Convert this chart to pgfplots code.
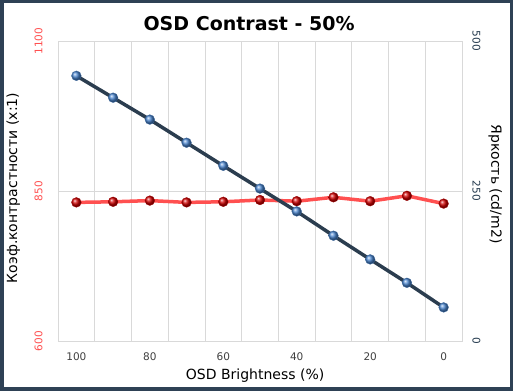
\documentclass[border=0pt]{standalone}
\usepackage{pgfplots}
\pgfplotsset{compat=1.18}
\usepackage{fontspec}
\setmainfont{DejaVu Sans}
\definecolor{frame}{HTML}{2E4155}
\definecolor{gridc}{HTML}{D9D9D9}
\definecolor{redline}{HTML}{FF5050}
\definecolor{redmark}{HTML}{D00000}
\definecolor{darkline}{HTML}{2B3D4F}
\definecolor{bluemark}{HTML}{4A86D0}
\definecolor{ticksred}{HTML}{FF5050}
\definecolor{ticksdark}{HTML}{243A4E}
\definecolor{xtickc}{HTML}{404040}
\begin{document}
\begin{tikzpicture}
\useasboundingbox (0,0) rectangle (513bp,391bp);
\fill[white] (0,0) rectangle (513bp,391bp);
\begin{axis}[
  scale only axis, width=404bp, height=300bp, at={(58bp,50bp)}, anchor=south west,
  xmin=-0.5, xmax=10.5, ymin=600, ymax=1100,
  xtick={0,2,4,6,8,10}, xticklabels={100,80,60,40,20,0},
  minor xtick={-0.5,0.5,...,10.5},
  xminorgrids, ytick={600,850,1100}, ymajorgrids,
  grid style={gridc, line width=0.75bp},
  minor grid style={gridc, line width=0.75bp},
  axis line style={gridc, line width=0.75bp},
  major tick length=0pt, minor tick length=0pt,
  /pgf/number format/assume math mode=true,
  /pgf/number format/1000 sep={},
  xticklabel style={font=\fontsize{10.5bp}{11bp}\selectfont, text=xtickc, anchor=north},
  xticklabel shift=8bp,
  yticklabel style={font=\fontsize{10.5bp}{11bp}\selectfont, text=ticksred, rotate=90, anchor=south},
  yticklabel shift=12bp,
  title={OSD Contrast - 50\%},
  title style={at={(axis description cs:0.473,1.037)}, anchor=center, font=\fontsize{19bp}{20bp}\selectfont\bfseries},
  xlabel={OSD Brightness (\%)},
  xlabel style={at={(axis description cs:0.488,-0.117)}, anchor=center, font=\fontsize{14bp}{15bp}\selectfont},
  ylabel={Коэф.контрастности (x:1)},
  ylabel style={at={(axis description cs:-0.111,0.51)}, anchor=center, rotate=0, font=\fontsize{14bp}{15bp}\selectfont},
]
\addplot[redline, line width=3.5bp, mark=ball, mark size=4.9bp, mark options={ball color=redmark, draw=redmark!80!black, line width=0.3bp}]
coordinates {(0,831)(1,832)(2,834)(3,831)(4,832)(5,835)(6,833)(7,839.5)(8,833)(9,842)(10,829)};
\end{axis}
\begin{axis}[
  scale only axis, width=404bp, height=300bp, at={(58bp,50bp)}, anchor=south west,
  xmin=-0.5, xmax=10.5, ymin=0, ymax=500,
  axis x line=none, axis y line*=right,
  ytick={0,250,500},
  axis line style={gridc, line width=0.75bp},
  major tick length=0pt,
  /pgf/number format/assume math mode=true,
  yticklabel style={font=\fontsize{10.5bp}{11bp}\selectfont, text=ticksdark, rotate=-90, anchor=south},
  yticklabel shift=7bp,
  ylabel={Яркость (cd/m2)},
  ylabel style={at={(axis description cs:1.082,0.523)}, anchor=center, rotate=180, font=\fontsize{14bp}{15bp}\selectfont},
]
\addplot[darkline, line width=3.5bp, mark=ball, mark size=4.9bp, mark options={ball color=bluemark, draw=bluemark!80!black, line width=0.3bp}]
coordinates {(0,442)(1,405.5)(2,369)(3,330.5)(4,292)(5,254)(6,216)(7,175.5)(8,136)(9,97)(10,56)};
\end{axis}
\draw[frame, line width=7bp] (0,0) rectangle (513bp,391bp);
\end{tikzpicture}
\end{document}
